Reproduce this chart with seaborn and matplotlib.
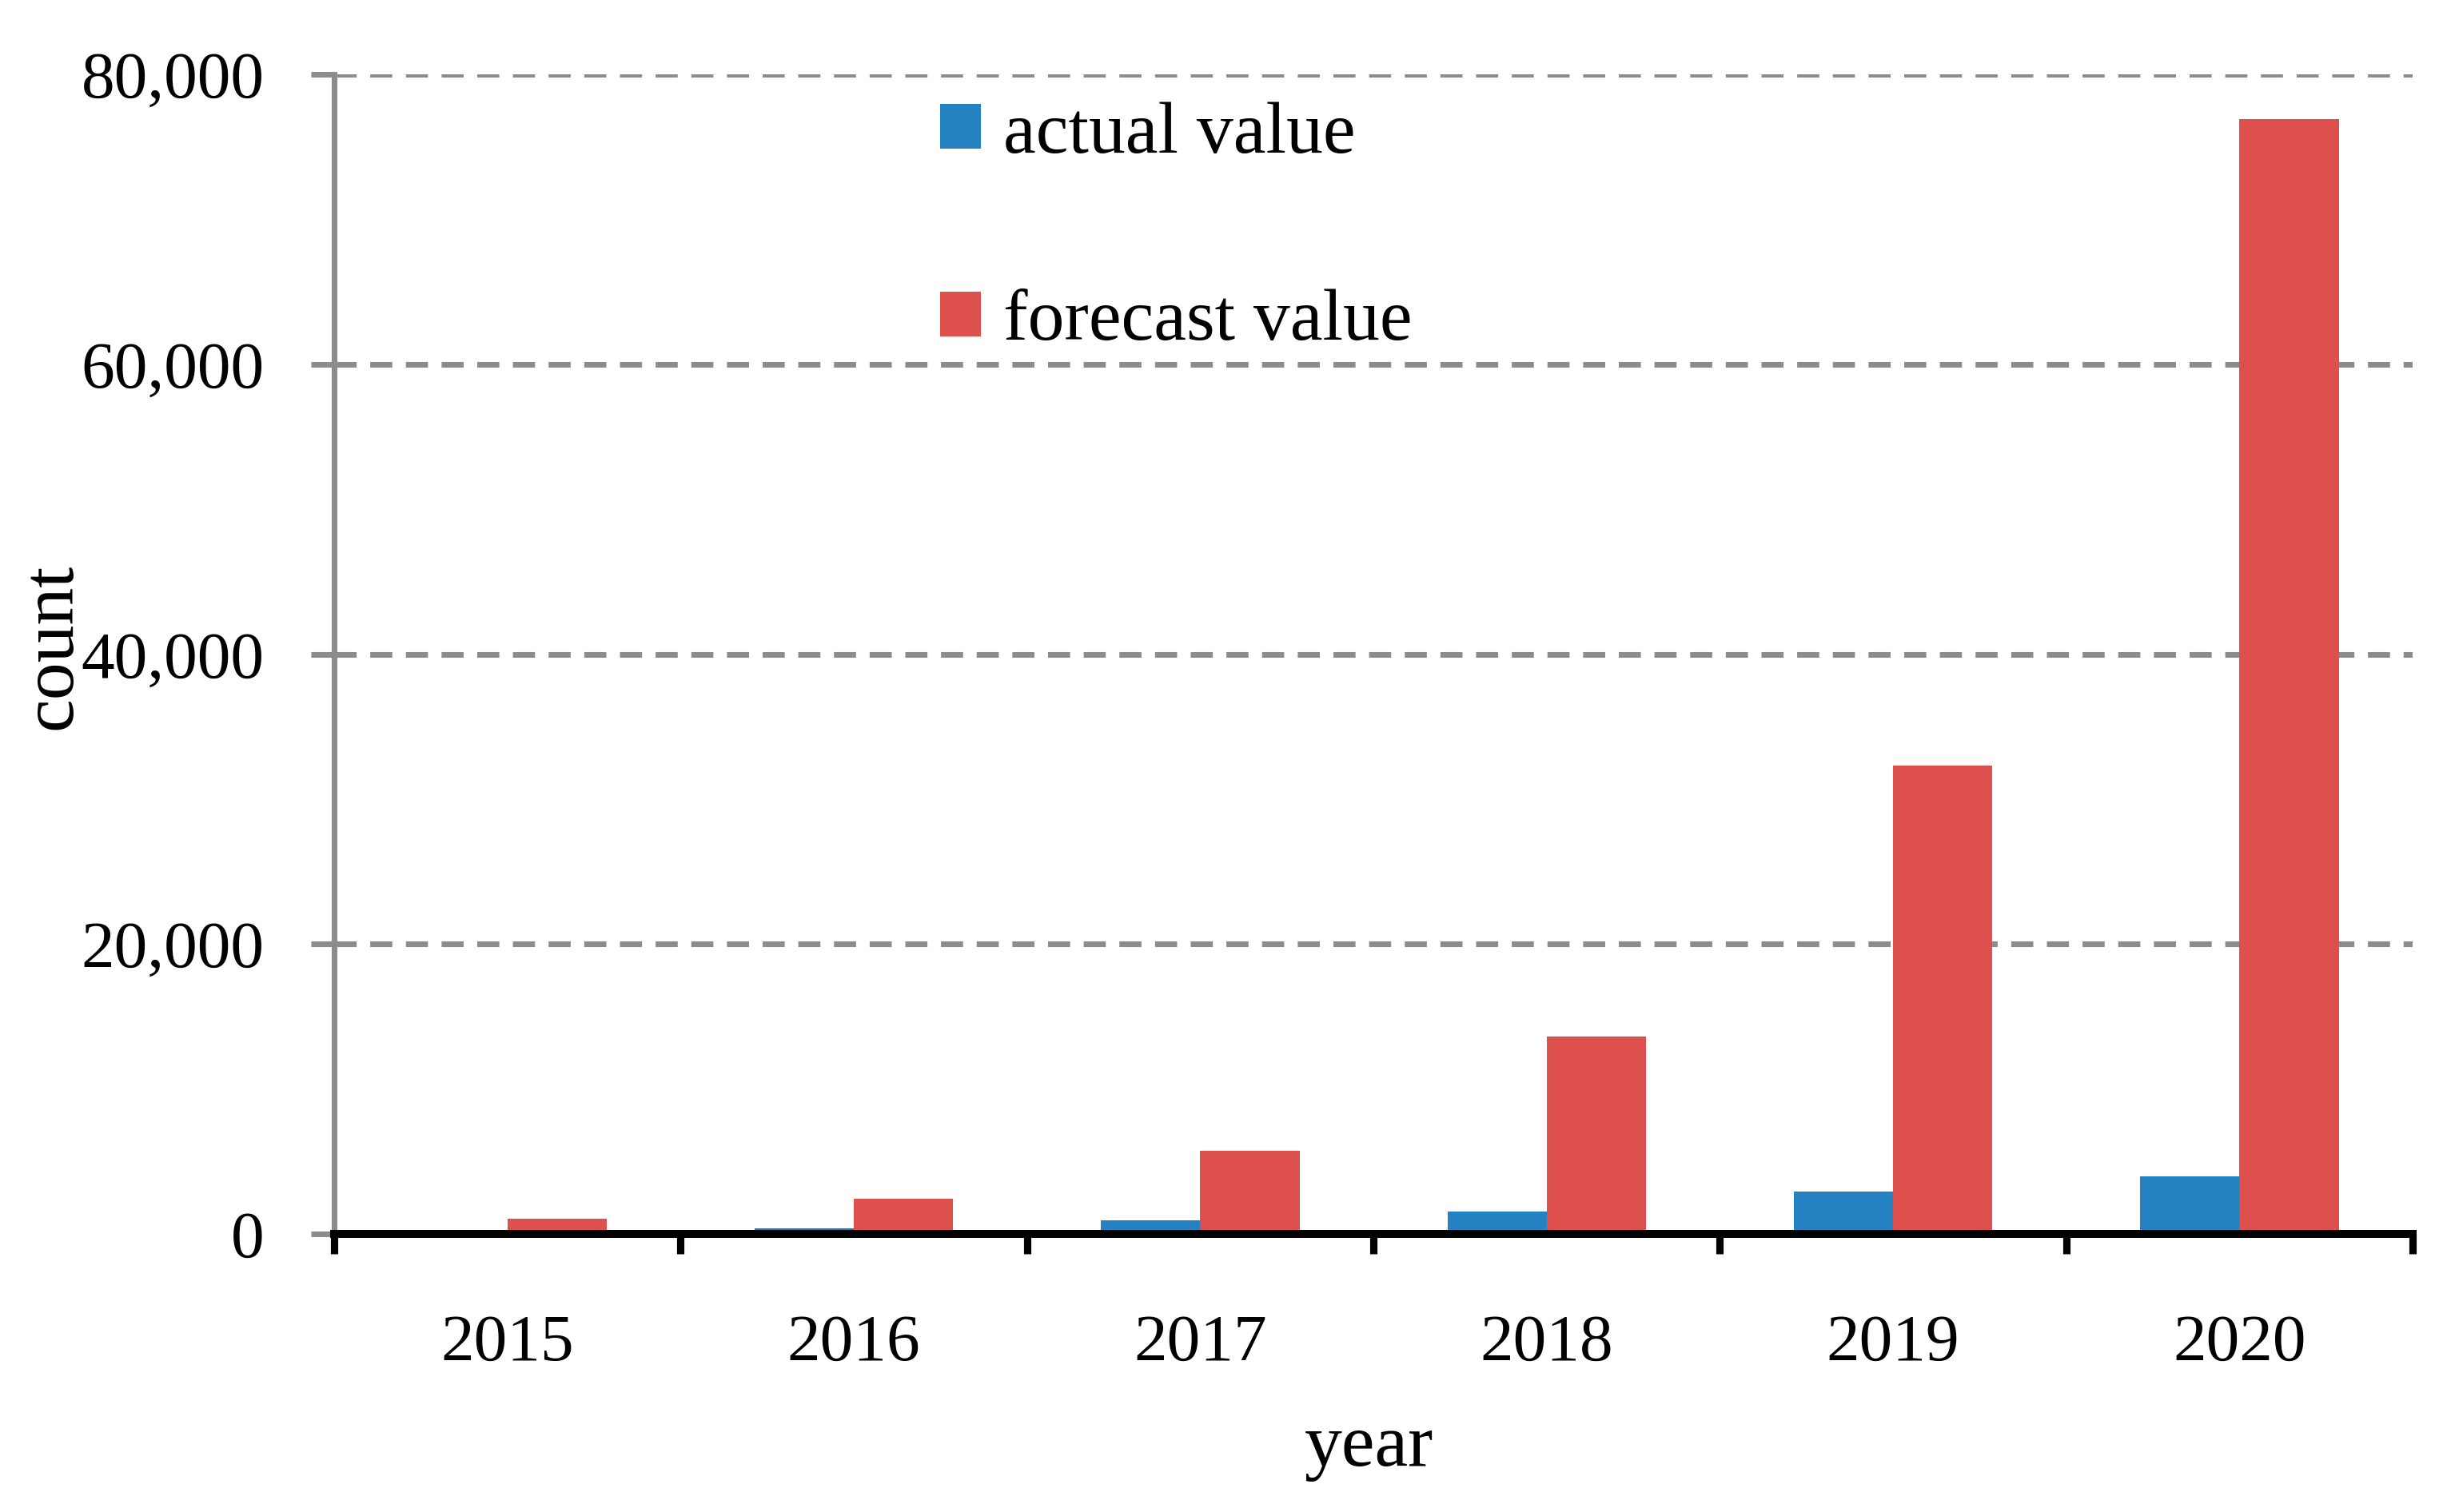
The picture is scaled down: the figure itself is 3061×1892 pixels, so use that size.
import pandas as pd
import matplotlib
matplotlib.use("Agg")
import matplotlib.pyplot as plt
import seaborn as sns
from matplotlib.ticker import FuncFormatter, FixedLocator
from matplotlib.patches import Patch

# values
years = ["2015", "2016", "2017", "2018", "2019", "2020"]
actual_value = [100, 400, 950, 1550, 2950, 4000]
forecast_value = [1050, 2450, 5750, 13600, 32300, 76900]
series_names = ["actual value", "forecast value"]
colors = ["#2482C2", "#DE504E"]

df = pd.DataFrame({
    "year": years * 2,
    "count": actual_value + forecast_value,
    "series": [series_names[0]] * len(years) + [series_names[1]] * len(years),
})

sns.set_style("white")
plt.rcParams['font.family'] = ['Liberation Serif', 'DejaVu Serif']
plt.rcParams['text.color'] = 'black'
plt.rcParams['axes.labelcolor'] = 'black'
plt.rcParams['xtick.color'] = 'black'
plt.rcParams['ytick.color'] = 'black'

fig = plt.figure(figsize=(3061 / 300, 1892 / 300), dpi=300)
ax = fig.add_axes([0.1366, 0.1839, 0.9860 - 0.1366, 0.9508 - 0.1839])

sns.barplot(data=df, x="year", y="count", hue="series", palette=colors,
            width=0.573, saturation=1, errorbar=None, ax=ax, legend=False,
            linewidth=0, zorder=2)

ax.set_ylim(0, 80000)
ax.set_xlim(-0.5, len(years) - 0.5)
ax.yaxis.set_major_locator(FixedLocator([0, 20000, 40000, 60000, 80000]))
ax.yaxis.set_major_formatter(FuncFormatter(lambda v, p: f"{int(v):,}"))

# dashed horizontal grid
grey = "#8C8C8C"
ax.grid(axis="y", color=grey, linestyle=(0, (3.9, 2.4)), linewidth=1.7, zorder=0)
ax.grid(axis="x", visible=False)
ax.set_axisbelow(True)

for s in ["top", "right"]:
    ax.spines[s].set_visible(False)
ax.spines["left"].set_color(grey)
ax.spines["left"].set_linewidth(1.7)
ax.spines["bottom"].set_color("black")
ax.spines["bottom"].set_linewidth(2.4)
ax.spines["bottom"].set_zorder(5)

ax.tick_params(axis="y", which="major", direction="out", length=7, width=1.7,
               color=grey, labelcolor="black", pad=14, labelsize=20, left=True)
# x: labels at category centres, tick marks at category boundaries
ax.tick_params(axis="x", which="major", length=0, pad=24, labelsize=20,
               labelcolor="black", bottom=True)
ax.set_xticks([i - 0.5 for i in range(len(years) + 1)], minor=True)
ax.tick_params(axis="x", which="minor", direction="out", length=6, width=2.2,
               color="black", bottom=True)

ax.set_ylabel("count", fontsize=22.5, color="black")
ax.set_xlabel("year", fontsize=22.5, va="top", color="black")
ax.yaxis.set_label_coords(-0.119, 0.507)
ax.xaxis.set_label_coords(0.498, -0.155)

handles = [Patch(facecolor=c, edgecolor="none") for c in colors]
ax.legend(handles, series_names, loc="upper left", bbox_to_anchor=(1176 / 3061, 1 - 127 / 1892),
          bbox_transform=fig.transFigure, frameon=False, fontsize=22,
          handlelength=0.56, handleheight=0.56, handletextpad=0.3,
          labelspacing=1.66, borderpad=0, borderaxespad=0, labelcolor="black")

fig.savefig("out.png", dpi=300)
